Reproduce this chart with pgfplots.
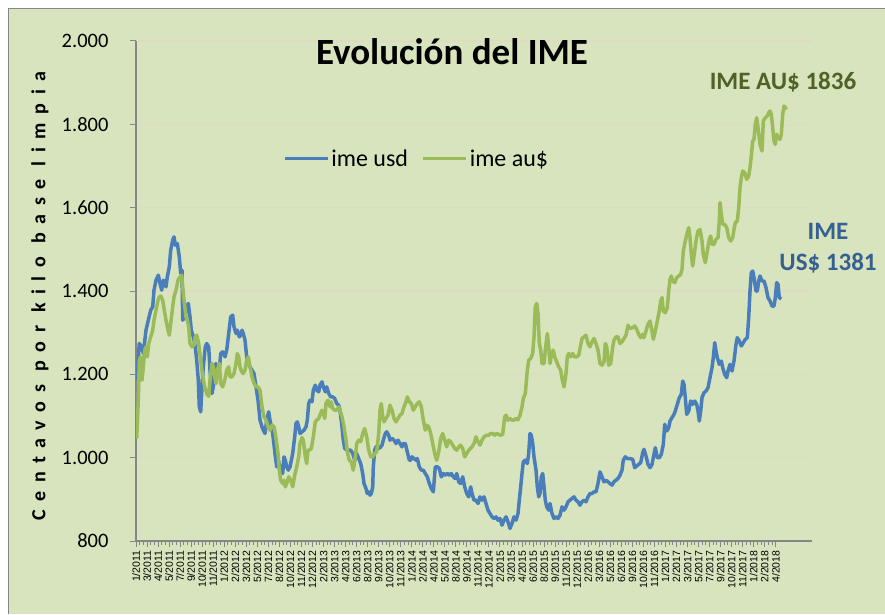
\documentclass[border=0pt]{standalone}
\usepackage{pgfplots}
\pgfplotsset{compat=1.18}
\usepackage{fontspec}
\setmainfont{Carlito}
\newfontfamily\arialf{Liberation Sans}
\definecolor{bg}{RGB}{215,228,189}
\definecolor{usd}{RGB}{74,126,187}
\definecolor{aud}{RGB}{155,187,89}
\definecolor{gridc}{RGB}{224,218,196}
\definecolor{axc}{RGB}{134,134,134}
\definecolor{annG}{RGB}{79,98,40}
\definecolor{annB}{RGB}{55,96,146}
\begin{document}
\begin{tikzpicture}[x=1pt,y=1pt]
\useasboundingbox (0,0) rectangle (885,614);
\fill[white] (0,0) rectangle (885,614);
\fill[bg] (8,0) rectangle (885,605);
\draw[axc, line width=1pt] (8,0) -- (8,605) -- (885,605);
\begin{axis}[
  at={(136pt,73pt)}, anchor=south west,
  scale only axis, width=676pt, height=500pt,
  xmin=2, xmax=678, ymin=800, ymax=2000,
  ytick={800,1000,...,2000},
  xtick={2,13.03,...,642},
  xticklabels={1/2011,3/2011,4/2011,5/2011,7/2011,9/2011,10/2011,11/2011,1/2012,2/2012,3/2012,5/2012,7/2012,8/2012,10/2012,11/2012,12/2012,2/2013,3/2013,4/2013,6/2013,8/2013,9/2013,10/2013,11/2013,1/2014,2/2014,4/2014,5/2014,8/2014,9/2014,11/2014,12/2014,2/2015,3/2015,4/2015,6/2015,8/2015,9/2015,11/2015,12/2015,2/2016,3/2016,5/2016,6/2016,9/2016,10/2016,11/2016,1/2017,2/2017,3/2017,5/2017,7/2017,9/2017,10/2017,11/2017,1/2018,2/2018,4/2018},
  minor x tick num=2,
  axis x line*=bottom, axis y line*=left,
  axis line style={axc, line width=1.3pt},
  tick style={axc, line width=1pt},
  tick align=outside, major tick length=6pt, minor tick length=4pt,
  ymajorgrids, grid style={gridc, line width=1.2pt},
  x tick label style={font=\arialf\fontsize{10.5}{11}\selectfont, rotate=90, anchor=east},
  y tick label style={font=\fontsize{20.5}{24}\selectfont, anchor=east, xshift=-18pt},
  /pgf/number format/.cd, 1000 sep={.}, assume math mode=true, /pgfplots/.cd,
  legend columns=2,
  legend style={at={(0.218,0.765)}, anchor=west, draw=none, fill=none, inner sep=0pt,
    font=\fontsize{24}{28}\selectfont,
    /tikz/every even column/.append style={column sep=12pt}},
  legend image code/.code={\draw[#1,line width=2.8pt] (0pt,0pt) -- (43pt,0pt);},
  every axis plot/.append style={line width=3.5pt, line join=round, no markers},
]
\addplot[usd] coordinates {(2.7,1186)(5.3,1274)(7.7,1266)(9.3,1250)(12,1306)(14.3,1330)(16.7,1354)(18.7,1362)(20,1402)(22,1426)(24.3,1438)(26,1418)(27.7,1402)(29.3,1426)(32,1410)(33.3,1434)(35.3,1458)(36.7,1498)(38.7,1522)(40,1530)(41.3,1510)(43.3,1514)(45.3,1482)(46.7,1442)(48,1450)(48.7,1330)(51,1338)(52.7,1362)(54.3,1370)(56,1338)(57.3,1306)(59.3,1290)(61.3,1266)(62.7,1234)(64.3,1186)(65.3,1122)(66.7,1110)(68,1170)(69.3,1218)(71.3,1266)(72.7,1274)(74.7,1266)(76,1210)(78,1154)(79.3,1170)(80.7,1218)(82,1226)(83.3,1202)(85.3,1210)(86.7,1250)(88.7,1254)(91,1242)(92.7,1258)(94.7,1298)(96.7,1338)(98.7,1342)(100,1314)(102,1298)(103.3,1306)(105.3,1290)(106.7,1294)(108,1306)(109.3,1298)(111,1282)(112.7,1242)(114.3,1226)(116,1218)(118,1210)(120,1202)(122,1170)(124,1138)(126,1090)(128,1074)(129.3,1066)(131,1058)(132.7,1090)(134.7,1110)(136,1090)(138.7,1058)(141,1010)(142.7,978)(144.3,994)(146.7,970)(148.7,962)(150,1002)(151.3,994)(152.7,978)(154.3,970)(156,978)(158.7,1010)(160.7,1050)(162,1082)(163.3,1086)(164.7,1074)(166,1058)(168,1062)(170,1066)(172,1074)(173.3,1090)(174.7,1130)(176,1138)(178,1134)(179.3,1162)(181.3,1174)(182.7,1162)(184.7,1158)(186,1174)(188,1182)(189.3,1170)(191.3,1158)(192.7,1170)(194.7,1154)(196.7,1146)(198.7,1146)(200.7,1142)(202.7,1130)(204.7,1126)(206,1114)(208,1074)(209.3,1042)(210.7,1022)(212.7,1019)(214.7,1018)(216.7,1018)(218.7,1010)(220.7,994)(222.7,1010)(224.7,998)(226.7,986)(228.7,962)(230,938)(232,926)(233.3,914)(234.7,918)(236,910)(237.3,914)(238.7,930)(239.3,978)(240.7,1018)(242,1026)(244,1022)(246,1024)(248,1030)(249.3,1042)(251.3,1058)(252.7,1062)(254.7,1054)(256,1042)(258,1046)(260,1042)(262,1034)(264,1042)(266,1034)(268,1026)(269.3,1034)(271.3,1034)(273.3,1014)(275.3,994)(276.7,994)(278,1002)(280,998)(282,994)(283.3,998)(285.3,978)(287.3,970)(289.3,970)(291.3,962)(293.3,954)(295.3,938)(297.3,926)(299.3,918)(301.3,978)(303.3,978)(305.3,974)(307.3,954)(309.3,962)(311.3,958)(313.3,962)(315.3,958)(317.3,962)(319.3,954)(321.3,950)(322.7,962)(324.7,942)(326.7,938)(328.7,954)(330.7,930)(332.7,914)(334.7,906)(336.7,930)(338,914)(340,898)(342,898)(344,890)(346,906)(348,898)(350,906)(352,890)(354,874)(356,866)(358,858)(360,854)(362,858)(364,850)(366,854)(368,838)(370,850)(372,858)(374,846)(376,830)(378,842)(380,858)(382,850)(384,866)(385.3,898)(386.7,930)(388,962)(389.3,990)(391.3,994)(393.3,986)(394.7,1010)(396,1058)(397.3,1054)(398.7,1034)(400,1002)(402,970)(403.3,930)(404.7,906)(406,914)(407.3,954)(408.7,962)(410,930)(411.3,898)(412.7,882)(414.7,874)(416,890)(418,866)(420,854)(422,858)(424,854)(426,862)(428,882)(430,874)(432,882)(434,894)(436,898)(438,902)(440,906)(442,898)(444,894)(446,886)(448,894)(450,898)(452,894)(454,906)(456,914)(458,914)(460,918)(462,918)(464,938)(466,966)(468,954)(470,942)(472,946)(474,942)(476,938)(478,934)(480,942)(482,946)(484,950)(486,958)(488,970)(489.3,994)(491.3,1002)(493.3,998)(496,998)(498.7,996)(500.7,976)(502.7,980)(504.7,984)(506.7,988)(508.7,1012)(510,1020)(512,1004)(514,984)(516,976)(518,984)(519.3,1000)(521.3,1024)(523.3,1000)(525.3,1000)(527.3,1008)(529.3,1032)(530.7,1080)(532.7,1064)(534.7,1072)(536,1088)(538,1096)(540,1104)(541.3,1112)(543.3,1128)(545.3,1144)(547.3,1152)(548.7,1184)(550,1176)(551.3,1144)(552.7,1104)(554.7,1112)(556.7,1136)(558.7,1128)(560.7,1136)(562.7,1128)(564,1112)(565.3,1088)(566.7,1112)(568,1144)(570,1156)(572,1160)(574,1168)(576,1192)(578,1216)(579.3,1240)(580.7,1276)(582,1256)(583.3,1240)(585.3,1224)(587.3,1232)(588.7,1216)(590.7,1200)(592.7,1192)(594,1208)(596,1224)(598,1208)(600,1232)(602,1272)(603.3,1288)(605.3,1280)(607.3,1268)(609.3,1276)(611.3,1284)(613.3,1288)(614.7,1336)(616,1400)(617.3,1444)(618.7,1448)(620,1432)(622,1400)(623.3,1400)(624.7,1424)(626,1436)(628,1424)(630,1424)(632,1408)(634,1384)(636,1376)(638,1364)(640,1364)(641.3,1384)(642.7,1420)(644,1416)(645.3,1384)(647.3,1381)};
\addlegendentry{ime usd}
\addplot[aud] coordinates {(2.7,1046)(4.3,1138)(5.3,1234)(6.7,1242)(8,1186)(9.3,1218)(10.7,1258)(12,1266)(13.3,1242)(14.7,1274)(16.7,1290)(18.7,1306)(20,1330)(22,1354)(24,1378)(25.3,1386)(26.7,1388)(28.7,1378)(30,1358)(32,1330)(34,1306)(35.3,1294)(36.7,1322)(38.7,1362)(40,1386)(42,1402)(44,1426)(46,1434)(47.7,1438)(48.7,1410)(50,1378)(52,1338)(53.3,1330)(54.7,1314)(56,1274)(58,1266)(60,1270)(61.3,1290)(62.7,1294)(64.7,1274)(66.7,1234)(68.7,1194)(70.7,1170)(72.7,1154)(74.7,1147)(76,1186)(78,1226)(79.3,1218)(80.7,1194)(82,1178)(83.3,1210)(85.3,1226)(86.7,1178)(88.7,1170)(90.7,1186)(92.7,1210)(94.7,1218)(96,1194)(98,1194)(100,1202)(102,1226)(103.3,1250)(104.7,1242)(106,1218)(107.7,1206)(109.3,1202)(111,1210)(112.7,1234)(114.3,1242)(116,1218)(118,1194)(120,1178)(122,1170)(124,1170)(126,1162)(128,1122)(130,1098)(132,1090)(134,1074)(136,1066)(138,1078)(140,1074)(141.3,1058)(142.7,1034)(144,1010)(145.3,970)(146.7,946)(148.7,938)(150,946)(151.3,930)(152.7,938)(154.7,954)(156.7,946)(158.7,930)(160.7,958)(162.7,978)(164.7,1002)(166,1034)(168,1048)(169.3,1042)(171.3,1002)(172.7,986)(174,1018)(175.3,1018)(177.3,1022)(179.3,1050)(181.3,1086)(182.7,1090)(184.7,1094)(186,1102)(188,1114)(189.3,1106)(190.7,1094)(192,1130)(194,1138)(196,1122)(197.3,1134)(198.7,1118)(200.7,1114)(202.7,1114)(204.7,1122)(206,1114)(208,1098)(210,1074)(212,1042)(213.3,1014)(215.3,994)(217.3,990)(219.3,970)(221.3,1002)(222.7,1034)(224.7,1042)(226.7,1038)(228.7,1058)(230.7,1070)(232.7,1050)(234.7,1018)(236.7,1002)(238.7,1002)(240.7,1010)(242.7,1014)(244.7,1058)(246,1114)(247.3,1130)(248.7,1098)(250,1086)(252,1094)(254,1102)(256,1126)(258,1114)(260,1094)(262,1086)(264,1094)(266,1102)(268,1106)(270,1122)(272,1134)(273.3,1146)(275.3,1134)(277.3,1130)(279.3,1114)(281.3,1122)(283.3,1130)(285.3,1134)(287.3,1122)(289.3,1090)(291.3,1066)(292.7,1078)(294.7,1074)(296.7,1058)(298.7,1034)(300.7,1010)(302.7,994)(304.7,1014)(306.7,1046)(308.7,1058)(310.7,1042)(312.7,1026)(314.7,1042)(316.7,1038)(318.7,1030)(320.7,1022)(322.7,1018)(324.7,1026)(326.7,1030)(328.7,1022)(330.7,1002)(332.7,1010)(334.7,1018)(338,1026)(340,1034)(342,1050)(344,1038)(346,1030)(348,1042)(350,1050)(352.7,1054)(354.7,1054)(356.7,1058)(358.7,1058)(360.7,1054)(362.7,1058)(364.7,1056)(366.7,1054)(368.7,1056)(370.7,1098)(372,1102)(374,1090)(376,1094)(378,1090)(380,1090)(382,1094)(384,1091)(386,1102)(388,1122)(389.3,1142)(391.3,1154)(393.3,1210)(394.7,1234)(396.7,1238)(398.7,1250)(400,1290)(401.3,1362)(402.7,1370)(404,1346)(405.3,1274)(406.7,1258)(408,1226)(410,1226)(411.3,1258)(413.3,1298)(414.7,1266)(416,1226)(418,1254)(419.3,1258)(420.7,1242)(422.7,1230)(424.7,1218)(426.7,1210)(428,1190)(430,1170)(432,1202)(433.3,1242)(434.7,1250)(436.7,1242)(438.7,1250)(440.7,1242)(442.7,1242)(444.7,1246)(446.7,1270)(448,1286)(450,1290)(452,1294)(454,1274)(456,1266)(458,1278)(460,1286)(462,1274)(464,1258)(466,1226)(468,1222)(470,1230)(471.3,1274)(472.7,1266)(474.7,1222)(476.7,1226)(478.7,1266)(480,1282)(482,1290)(484,1290)(486,1274)(488,1278)(490,1286)(492,1294)(494,1318)(496,1310)(498.7,1312)(500.7,1316)(502.7,1308)(504.7,1296)(506.7,1288)(508.7,1296)(510,1288)(512,1304)(514,1320)(516,1328)(518,1304)(519.3,1284)(521.3,1304)(523.3,1328)(525.3,1352)(526.7,1376)(528,1384)(529.3,1352)(531.3,1348)(533.3,1360)(534.7,1400)(536,1428)(537.3,1436)(538.7,1424)(540.7,1420)(542.7,1432)(544.7,1436)(546.7,1440)(548,1452)(549.3,1496)(551.3,1520)(553.3,1540)(554.7,1552)(556,1528)(557.3,1488)(558.7,1460)(560,1484)(562,1520)(564,1544)(566,1548)(568,1520)(569.3,1488)(571.3,1468)(573.3,1496)(575.3,1524)(576.7,1532)(578,1512)(580,1512)(582,1524)(584,1528)(585.3,1568)(586,1612)(587.3,1584)(588.7,1560)(590.7,1560)(592.7,1552)(594.7,1528)(596.7,1520)(598.7,1528)(600,1548)(601.3,1564)(603.3,1568)(604.7,1600)(606,1648)(607.3,1672)(608.7,1688)(610.7,1684)(612.7,1668)(614.7,1676)(616,1696)(617.3,1724)(618.7,1760)(620,1764)(621.3,1800)(622.7,1816)(624,1792)(626,1752)(628,1736)(629.3,1808)(631.3,1816)(633.3,1820)(634.7,1828)(636,1832)(637.3,1824)(638.7,1792)(640,1760)(641.3,1752)(642.7,1776)(644,1768)(646,1764)(647.3,1776)(648.7,1824)(650,1844)(651.3,1840)(652.7,1836)};
\addlegendentry{ime au\$}
\end{axis}
\node[font=\bfseries\fontsize{37}{40}\selectfont] at (452,562) {Evolución del IME};
\node[font=\bfseries\fontsize{25}{28}\selectfont, text=annG] at (783,532) {IME AU\$ 1836};
\node[font=\bfseries\fontsize{25}{31}\selectfont, text=annB, align=center] at (828,366) {IME\\US\$ 1381};
\node[rotate=90, font=\bfseries\fontsize{20}{22}\selectfont\addfontfeature{LetterSpace=43}] at (40,318) {Centavos por kilo base limpia};
\end{tikzpicture}
\end{document}
